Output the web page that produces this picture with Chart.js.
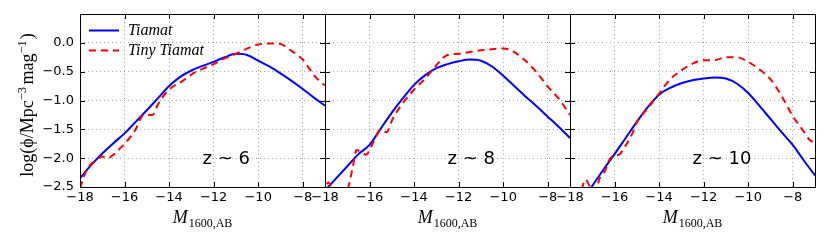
<!DOCTYPE html>
<html>
<head>
<meta charset="utf-8">
<script src="https://cdn.jsdelivr.net/npm/chart.js@4"></script>
<style>
html, body { margin: 0; padding: 0; background: #fff; }
#wrap { position: relative; width: 830px; height: 249px; }
#wrap canvas { position: absolute; left: 0; top: 0; }
</style>
</head>
<body>
<div id="wrap">
  <canvas id="panel-0" width="830" height="249"></canvas>
  <canvas id="panel-1" width="830" height="249"></canvas>
  <canvas id="panel-2" width="830" height="249"></canvas>
</div>
<script>
// axis ticks and labels
const MAG_TICKS = [-18, -16, -14, -12, -10, -8];
const PHI_TICKS = [-2.5, -2.0, -1.5, -1.0, -0.5, 0.0];
const Z_LABELS = ["z ~ 6", "z ~ 8", "z ~ 10"];
const SERIES_NAMES = ["Tiamat", "Tiny Tiamat"];

// Tiamat: common magnitude grid
const MAG = [-18, -17.5, -17, -16.5, -16, -15.5, -15, -14.5, -14, -13.5, -13, -12.5,
             -12, -11.5, -11, -10.5, -10, -9.5, -9, -8.5, -8, -7.5, -7];
const TIAMAT_Z6 = [-2.35, -2.12, -1.92, -1.74, -1.57, -1.37, -1.17, -0.96, -0.75, -0.59, -0.48, -0.40,
                   -0.33, -0.25, -0.19, -0.21, -0.31, -0.41, -0.53, -0.66, -0.80, -0.95, -1.09];
const TIAMAT_Z8 = [-2.56, -2.35, -2.14, -1.93, -1.77, -1.49, -1.21, -0.96, -0.73, -0.56, -0.44, -0.37,
                   -0.32, -0.29, -0.31, -0.41, -0.57, -0.75, -0.93, -1.10, -1.28, -1.46, -1.65];
const TIAMAT_Z10 = [-3.05, -2.78, -2.48, -2.20, -1.93, -1.65, -1.37, -1.11, -0.90, -0.78, -0.70, -0.65,
                    -0.62, -0.60, -0.62, -0.71, -0.87, -1.09, -1.32, -1.55, -1.77, -2.04, -2.30];

// Tiny Tiamat: each run has its own magnitudes
const TINY_Z6_MAG = [-18, -17.85, -17.7, -17.5, -17.3, -17, -16.75, -16.5, -16.3, -16, -15.75, -15.5,
                     -15.3, -15.15, -14.75, -14.5, -14.25, -14, -13.75, -13.5, -13.25, -13, -12.5, -12,
                     -11.5, -11, -10.5, -10, -9.5, -9, -8.75, -8.5, -8, -7.75, -7.5, -7.25, -7];
const TINY_Z6 = [-2.52, -2.35, -2.2, -2.1, -2.05, -1.97, -2.0, -1.94, -1.87, -1.75, -1.64, -1.5,
                 -1.33, -1.25, -1.25, -1.07, -0.92, -0.81, -0.74, -0.69, -0.62, -0.55, -0.45, -0.37,
                 -0.27, -0.19, -0.10, -0.03, -0.01, -0.02, -0.07, -0.14, -0.29, -0.42, -0.56, -0.66, -0.74];
const TINY_Z8_MAG = [-18.1, -17.85, -17.6, -17.2, -16.95, -16.75, -16.58, -16.35, -16.15, -16, -15.8, -15.5,
                     -15.25, -14.95, -14.5, -14, -13.5, -13, -12.75, -12.5, -12, -11.5, -11, -10.5,
                     -10, -9.7, -9.5, -9, -8.5, -8, -7.5, -7];
const TINY_Z8 = [-2.65, -2.42, -2.58, -2.7, -2.5, -2.15, -1.86, -1.90, -1.94, -1.86, -1.70, -1.51,
                 -1.55, -1.31, -1.04, -0.81, -0.62, -0.39, -0.28, -0.21, -0.19, -0.16, -0.13, -0.11,
                 -0.10, -0.12, -0.16, -0.31, -0.51, -0.76, -0.97, -1.25];
const TINY_Z10_MAG = [-17.6, -17.3, -17, -16.8, -16.7, -16.4, -16.3, -16.1, -15.8, -15.5, -15.2, -15,
                      -14.5, -14, -13.5, -13, -12.5, -12, -11.5, -11, -10.5, -10, -9.5, -9,
                      -8.5, -8, -7.5, -7.25, -7];
const TINY_Z10 = [-2.75, -2.37, -2.56, -2.56, -2.38, -2.2, -2.08, -1.97, -1.94, -1.78, -1.57, -1.38,
                  -1.13, -0.88, -0.63, -0.48, -0.36, -0.30, -0.30, -0.25, -0.25, -0.33, -0.46, -0.63,
                  -0.92, -1.27, -1.54, -1.68, -1.74];

const panels = [
    { z: Z_LABELS[0], tiamat: [MAG, TIAMAT_Z6], tiny: [TINY_Z6_MAG, TINY_Z6] },
    { z: Z_LABELS[1], tiamat: [MAG, TIAMAT_Z8], tiny: [TINY_Z8_MAG, TINY_Z8] },
    { z: Z_LABELS[2], tiamat: [MAG, TIAMAT_Z10], tiny: [TINY_Z10_MAG, TINY_Z10] }
];

const PANEL_LEFT = 80, PANEL_W = 245, CANVAS_W = 830;
const MINUS = "\u2212";

function pts(pair) {
    return pair[0].map((m, i) => ({ x: m, y: pair[1][i] }));
}

function drawParts(ctx, parts, x0, y0) {
    let x = x0;
    parts.forEach(p => {
        ctx.font = p.font;
        ctx.fillText(p.text, x, y0 + (p.dy || 0));
        x += ctx.measureText(p.text).width + (p.gap || 0);
    });
}

function partsWidth(ctx, parts) {
    return parts.reduce((w, p) => { ctx.font = p.font; return w + ctx.measureText(p.text).width + (p.gap || 0); }, 0);
}

const panelDecor = {
    id: "panelDecor",
    afterDraw(chart, args, opts) {
        const { ctx, chartArea: a, scales: { x, y } } = chart;
        ctx.save();
        ctx.strokeStyle = "#000";
        ctx.lineWidth = 1;
        ctx.strokeRect(a.left + 0.5, a.top + 0.5, a.right - a.left, a.bottom - a.top);

        // inward ticks on all four sides
        ctx.beginPath();
        MAG_TICKS.forEach(v => {
            const px = Math.round(x.getPixelForValue(v)) + 0.5;
            ctx.moveTo(px, a.bottom); ctx.lineTo(px, a.bottom - 5);
            ctx.moveTo(px, a.top); ctx.lineTo(px, a.top + 5);
        });
        PHI_TICKS.forEach(v => {
            const py = Math.round(y.getPixelForValue(v)) + 0.5;
            ctx.moveTo(a.left, py); ctx.lineTo(a.left + 5, py);
            ctx.moveTo(a.right, py); ctx.lineTo(a.right - 5, py);
        });
        ctx.stroke();

        ctx.fillStyle = "#000";
        ctx.textAlign = "left";
        ctx.textBaseline = "alphabetic";

        // redshift label
        ctx.font = '18px "DejaVu Sans"';
        ctx.fillText(opts.z, x.getPixelForValue(-12.5), y.getPixelForValue(-2.1));

        // legend
        if (opts.legend) {
            chart.data.datasets.forEach((ds, i) => {
                const yy = a.top + 16.5 + 20 * i;
                ctx.save();
                ctx.strokeStyle = ds.borderColor;
                ctx.lineWidth = 2;
                ctx.setLineDash(ds.borderDash || []);
                ctx.beginPath();
                ctx.moveTo(a.left + 9, yy);
                ctx.lineTo(a.left + 39, yy);
                ctx.stroke();
                ctx.restore();
                ctx.font = 'italic 16px "Liberation Serif"';
                ctx.fillText(ds.label, a.left + 48, yy + 4);
            });
        }

        // x title: M_{1600,AB}
        const xParts = [
            { text: "M", font: 'italic 18px "Liberation Serif"', gap: 1 },
            { text: "1600,AB", font: '12px "Liberation Serif"', dy: 4 }
        ];
        const cx = (a.left + a.right) / 2;
        drawParts(ctx, xParts, cx - partsWidth(ctx, xParts) / 2, 223);

        // y title
        if (opts.yTitle) {
            const main = '18px "Liberation Serif"';
            const sup = '12.5px "Liberation Serif"';
            const yParts = [
                { text: "log(\u03d5/Mpc", font: main },
                { text: MINUS + "3", font: sup, dy: -7.5, gap: 2.5 },
                { text: "mag", font: main },
                { text: MINUS + "1", font: sup, dy: -7.5, gap: 1 },
                { text: ")", font: main }
            ];
            ctx.translate(33, 105);
            ctx.rotate(-Math.PI / 2);
            drawParts(ctx, yParts, -partsWidth(ctx, yParts) / 2, 0);
        }
        ctx.restore();
    }
};

function makeChart(k) {
    const p = panels[k];
    const left = PANEL_LEFT + k * PANEL_W;
    new Chart(document.getElementById("panel-" + k), {
        type: "line",
        data: {
            datasets: [{
                label: SERIES_NAMES[0],
                data: pts(p.tiamat),
                borderColor: "#0000ff",
                borderWidth: 2,
                pointRadius: 0,
                cubicInterpolationMode: "monotone",
                order: 1
            }, {
                label: SERIES_NAMES[1],
                data: pts(p.tiny),
                borderColor: "#ff0000",
                borderWidth: 2,
                borderDash: [7, 5],
                pointRadius: 0,
                cubicInterpolationMode: "monotone",
                order: 0
            }]
        },
        options: {
            responsive: false,
            animation: false,
            events: [],
            layout: {
                padding: { left: k === 0 ? 0 : left, right: CANVAS_W - left - PANEL_W, top: 14, bottom: 0 }
            },
            plugins: {
                legend: { display: false },
                tooltip: { enabled: false },
                panelDecor: { z: p.z, legend: k === 0, yTitle: k === 0 }
            },
            scales: {
                x: {
                    type: "linear",
                    min: -18,
                    max: -7,
                    afterBuildTicks: s => { s.ticks = MAG_TICKS.map(v => ({ value: v })); },
                    afterFit: s => { s.height = 62; },
                    ticks: {
                        padding: 3,
                        color: "#000",
                        font: { family: "DejaVu Sans", size: 13 },
                        maxRotation: 0,
                        autoSkip: false,
                        callback: v => MINUS + Math.abs(v)
                    },
                    grid: { color: "#a8a8a8", lineWidth: 1, drawTicks: false },
                    border: { display: false, dash: [1, 3] }
                },
                y: {
                    type: "linear",
                    min: -2.5,
                    max: 0.5,
                    afterBuildTicks: s => { s.ticks = PHI_TICKS.map(v => ({ value: v })); },
                    afterFit: s => { s.width = k === 0 ? PANEL_LEFT : 0; },
                    ticks: {
                        display: k === 0,
                        padding: 6,
                        color: "#000",
                        font: { family: "DejaVu Sans", size: 13 },
                        callback: v => (v < 0 ? MINUS : "") + Math.abs(v).toFixed(1)
                    },
                    grid: { color: "#a8a8a8", lineWidth: 1, drawTicks: false },
                    border: { display: false, dash: [1, 3] }
                }
            }
        },
        plugins: [panelDecor]
    });
}

[0, 1, 2].forEach(makeChart);
</script>
</body>
</html>
